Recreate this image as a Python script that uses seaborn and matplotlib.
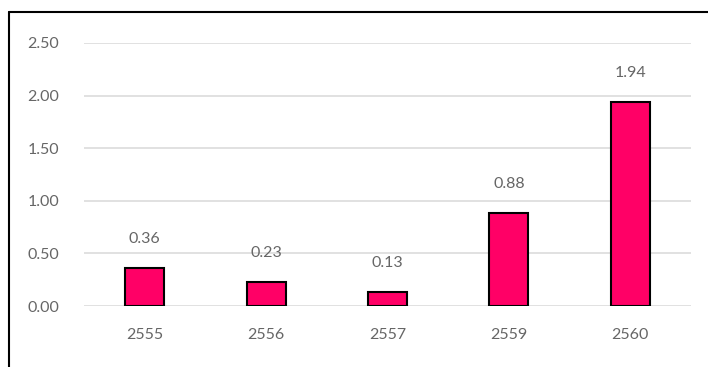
import matplotlib
matplotlib.use("Agg")
import matplotlib.pyplot as plt
from matplotlib.lines import Line2D
import seaborn as sns

years = ["2555", "2556", "2557", "2559", "2560"]
values = [0.36, 0.23, 0.13, 0.88, 1.94]
y_ticks = [0.0, 0.5, 1.0, 1.5, 2.0, 2.5]

sns.set_theme(style="white")
plt.rcParams["font.family"] = ["Lato", "DejaVu Sans"]

W, H = 708, 367
fig = plt.figure(figsize=(W / 100, H / 100), dpi=100)
ax = fig.add_axes([84 / W, (H - 306) / H, 607 / W, 263 / H])

sns.barplot(x=years, y=values, color="#FF0066", width=0.32,
            edgecolor="black", linewidth=1.5, saturation=1, ax=ax, zorder=3)

ax.set_ylim(0, 2.5)
ax.set_xlim(-0.5, len(years) - 0.5)
ax.set_yticks(y_ticks)
ax.set_yticklabels([f"{v:.2f}" for v in y_ticks])
ax.grid(axis="y", color="#d9d9d9", linewidth=1.1, zorder=0)
ax.grid(axis="x", visible=False)
for s in ax.spines.values():
    s.set_visible(False)
ax.tick_params(axis="both", length=0, labelsize=11.5, labelcolor="#666666")
ax.tick_params(axis="x", pad=16)
ax.tick_params(axis="y", pad=18)
ax.set_xlabel("")
ax.set_ylabel("")

for i, v in enumerate(values):
    ax.annotate(f"{v:.2f}", xy=(i, v), xytext=(0, 21), textcoords="offset points",
                ha="center", va="center", fontsize=11.5, color="#666666")

# outer frame lines (left and top)
fig.add_artist(Line2D([9 / W, 9 / W], [0, (H - 12) / H], color="black", linewidth=1.5,
                      transform=fig.transFigure))
fig.add_artist(Line2D([9 / W, 1], [(H - 12) / H, (H - 12) / H], color="black", linewidth=1.5,
                      transform=fig.transFigure))

fig.savefig("out.png", dpi=100)
